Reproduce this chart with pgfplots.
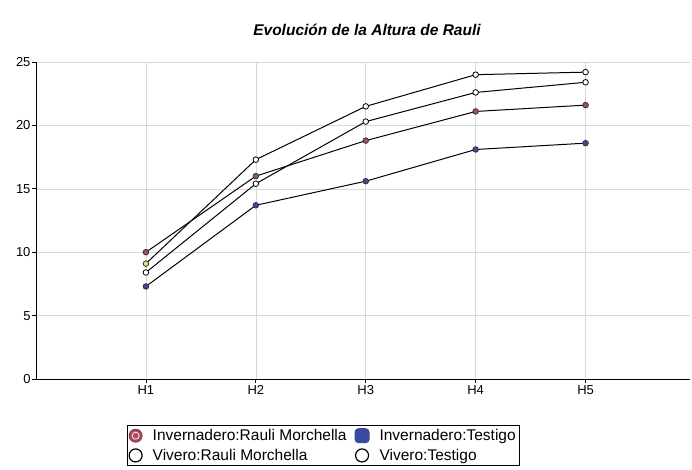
\documentclass[border=0pt]{standalone}
\usepackage{fontspec}
\setmainfont{Liberation Sans}
\usepackage{pgfplots}
\pgfplotsset{compat=1.18}
\definecolor{invred}{HTML}{B04A5A}
\definecolor{invblue}{HTML}{3A4A9E}
\definecolor{vivyel}{HTML}{E8E070}
\definecolor{gridc}{HTML}{D8D8D8}
\begin{document}
\begin{tikzpicture}
\begin{axis}[
  at={(0,0)}, anchor=south west,
  scale only axis, width=654bp, height=317bp,
  xmin=0, xmax=5.95, ymin=0, ymax=25,
  axis x line=bottom, axis y line=left,
  axis line style={black, line width=1pt, -},
  xtick={1,2,3,4,5}, xticklabels={H1,H2,H3,H4,H5},
  ytick={0,5,10,15,20,25},
  yticklabels={0,5,10,15,20,25},
  tick align=outside, major tick length=4bp,
  tick style={black, line width=0.8pt},
  xmajorgrids, ymajorgrids,
  grid style={gridc, line width=0.6pt},
  ticklabel style={font=\fontsize{13bp}{15bp}\selectfont},
  /pgf/number format/assume math mode=true,
  yticklabel style={xshift=2bp},
  xticklabel style={yshift=1bp},
  legend columns=2,
  legend style={at={(0.439,-0.21)}, anchor=center, draw=black, line width=0.8pt,
    font=\fontsize{15.5bp}{17bp}\selectfont, row sep=3bp, inner sep=1.5bp,
    /tikz/every odd column/.append style={column sep=8bp},
    /tikz/every even column/.append style={column sep=6bp}},
  legend cell align=left,
]
\addplot[black, line width=1pt, mark=*, mark size=2.8bp, mark options={fill=invred, draw=black!80, line width=0.8pt},
  legend image code/.code={\draw[draw=invred!70!black, fill=invred, line width=0.8pt] (0.3cm,0) circle (6.5bp);
  \draw[white, line width=0.7pt] (0.3cm,0) circle (3.5bp);}]
  coordinates {(1,10.0) (2,16.0) (3,18.8) (4,21.1) (5,21.6)};
\addlegendentry{Invernadero:Rauli Morchella}
\addplot[black, line width=1pt, mark=*, mark size=2.8bp, mark options={fill=invblue, draw=black!80, line width=0.8pt},
  legend image code/.code={\fill[invblue, rounded corners=3.5bp] (0.3cm-7bp,-7bp) rectangle (0.3cm+7bp,7bp);}]
  coordinates {(1,7.3) (2,13.7) (3,15.6) (4,18.1) (5,18.6)};
\addlegendentry{Invernadero:Testigo}
\addplot[black, line width=1pt, mark=none,
  legend image code/.code={\draw[black, fill=white, line width=1.2pt] (0.3cm,0) circle (6.5bp);}]
  coordinates {(1,9.1) (2,17.3) (3,21.5) (4,24.0) (5,24.2)};
\addlegendentry{Vivero:Rauli Morchella}
\addplot[black, line width=1pt, mark=*, mark size=2.8bp, mark options={fill=white, draw=black, line width=0.8pt},
  legend image code/.code={\draw[black, fill=white, line width=1.2pt] (0.3cm,0) circle (6.5bp);}]
  coordinates {(1,8.4) (2,15.4) (3,20.3) (4,22.6) (5,23.4)};
\addlegendentry{Vivero:Testigo}
\addplot[only marks, mark=*, mark size=2.8bp, mark options={fill=vivyel, draw=black!80, line width=0.8pt}, forget plot]
  coordinates {(1,9.1)};
\addplot[only marks, mark=*, mark size=2.8bp, mark options={fill=white, draw=black, line width=0.8pt}, forget plot]
  coordinates {(2,17.3) (3,21.5) (4,24.0) (5,24.2)};
\end{axis}
\node[font=\bfseries\itshape\fontsize{15.5bp}{17bp}\selectfont] at (331bp,349bp) {Evolución de la Altura de Rauli};
\pgfresetboundingbox
\path[use as bounding box] (-36bp,-91bp) rectangle (656bp,379bp);
\end{tikzpicture}
\end{document}
